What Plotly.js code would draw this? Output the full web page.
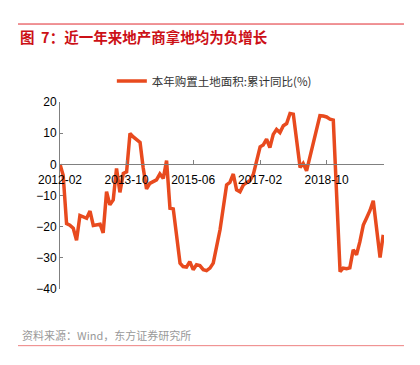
<!DOCTYPE html>
<html>
<head>
<meta charset="utf-8">
<script src="https://cdn.plot.ly/plotly-3.0.1.min.js"></script>
<style>html,body{margin:0;padding:0;background:#fff;}#chart{width:420px;height:365px;}</style>
</head>
<body>
<div id="chart"></div>
<script>
var seriesName = "本年购置土地面积:累计同比(%)";
var months = [
  "2012-02-01","2012-03-01","2012-04-01","2012-05-01","2012-06-01","2012-07-01","2012-08-01","2012-09-01","2012-10-01","2012-11-01","2012-12-01",
  "2013-02-01","2013-03-01","2013-04-01","2013-05-01","2013-06-01","2013-07-01","2013-08-01","2013-09-01","2013-10-01","2013-11-01","2013-12-01",
  "2014-02-01","2014-03-01","2014-04-01","2014-05-01","2014-06-01","2014-07-01","2014-08-01","2014-09-01","2014-10-01","2014-11-01","2014-12-01",
  "2015-02-01","2015-03-01","2015-04-01","2015-05-01","2015-06-01","2015-07-01","2015-08-01","2015-09-01","2015-10-01","2015-11-01","2015-12-01",
  "2016-02-01","2016-03-01","2016-04-01","2016-05-01","2016-06-01","2016-07-01","2016-08-01","2016-09-01","2016-10-01","2016-11-01","2016-12-01",
  "2017-02-01","2017-03-01","2017-04-01","2017-05-01","2017-06-01","2017-07-01","2017-08-01","2017-09-01","2017-10-01","2017-11-01","2017-12-01",
  "2018-02-01","2018-03-01","2018-04-01","2018-05-01","2018-06-01","2018-07-01","2018-08-01","2018-09-01","2018-10-01","2018-11-01","2018-12-01",
  "2019-02-01","2019-03-01","2019-04-01","2019-05-01","2019-06-01","2019-07-01","2019-08-01","2019-09-01","2019-10-01","2019-11-01","2019-12-01",
  "2020-02-01","2020-03-01"
];
var landYoY = [
  0, -3.5, -19, -19.5, -20.5, -24.4, -16.4, -16.8, -17.3, -15, -19.6,
  -19.2, -22, -8.8, -13, -11.4, -1.3, -9, -2.9, -2.4, 9.9, 8.8,
  7, -1, -7.9, -6.1, -5.5, -5, -3.1, -4.5, 1.2, -14.1, -14.3,
  -31.7, -32.8, -33, -31.2, -33.8, -32.2, -32.5, -33.8, -34.1, -33.3, -31.7,
  -21, -14, -6.6, -5.8, -3.1, -8.2, -8.8, -6.6, -5.9, -5.2, -3.2,
  5.6, 6.2, 8.1, 5.4, 9.6, 11.2, 10.2, 12.4, 13.1, 16.3, 16.1,
  -1.0, 0.3, -2.1, 2.5, 7.2, 11.5, 15.6, 15.5, 15.2, 14.5, 14.2,
  -34.4, -33.3, -33.5, -33.2, -27.4, -29, -24.8, -19.5, -17.2, -14.8, -11.7,
  -29.9, -22.6
];
var xTickVals = ["2012-02-01","2013-10-01","2015-06-01","2017-02-01","2018-10-01"];
var xTickText = ["2012-02","2013-10","2015-06","2017-02","2018-10"];
var yTickVals = [20, 10, 0, -10, -20, -30, -40];
var titleText = "图  7：近一年来地产商拿地均为负增长";
var sourceText = "资料来源：Wind，东方证券研究所";

var fontFam = "Liberation Sans, Arial, Noto Sans CJK SC, sans-serif";
var trace = {
  x: months, y: landYoY, type: "scatter", mode: "lines", name: seriesName,
  line: {color: "#E84A1E", width: 3.5}
};
var layout = {
  width: 420, height: 365,
  margin: {l: 60, r: 36, t: 102, b: 76},
  paper_bgcolor: "#fff", plot_bgcolor: "#fff",
  font: {family: fontFam, size: 12, color: "#000"},
  showlegend: true,
  legend: {orientation: "h", x: 0.16, xanchor: "left", y: 1.112, yanchor: "middle",
    font: {family: "Noto Sans CJK SC, Liberation Sans, sans-serif", size: 11.5, color: "#333"},
    bgcolor: "rgba(0,0,0,0)"},
  title: {text: titleText, x: 20/420, xanchor: "left", xref: "container", y: 1 - 38/365, yanchor: "middle", yref: "container",
    font: {family: "Noto Sans CJK SC, sans-serif", size: 14.5, color: "#CC1016", weight: "bold"}},
  xaxis: {type: "date", range: ["2012-02-01", "2020-03-08"], anchor: "free", position: 2/3,
    tickmode: "array", tickvals: xTickVals, ticktext: xTickText,
    showline: true, linecolor: "#808080", linewidth: 1, ticks: "inside", ticklen: 4, tickcolor: "#808080",
    ticklabelstandoff: 4,
    showgrid: false, zeroline: false, tickfont: {size: 12, color: "#000"}},
  yaxis: {range: [-40, 20], tickmode: "array", tickvals: yTickVals,
    showline: true, linecolor: "#808080", linewidth: 1, ticks: "inside", ticklen: 3, tickcolor: "#808080",
    showgrid: false, zeroline: false, tickfont: {size: 12, color: "#000"}},
  shapes: [
    {type: "line", xref: "paper", yref: "paper", x0: -0.1296, x1: 1.0617, y0: 1.417, y1: 1.417, line: {color: "#E0282E", width: 1}},
    {type: "line", xref: "paper", yref: "paper", x0: -0.1296, x1: 1.0617, y0: -0.303, y1: -0.303, line: {color: "#EE8080", width: 1}}
  ],
  annotations: [
    {text: sourceText, xref: "paper", yref: "paper", x: -0.1235, xanchor: "left", y: -0.246, yanchor: "middle", showarrow: false,
      font: {family: "Noto Sans CJK SC, Liberation Sans, sans-serif", size: 11, color: "#999"}}
  ]
};
Plotly.newPlot("chart", [trace], layout, {displayModeBar: false, staticPlot: true});
</script>
</body>
</html>
